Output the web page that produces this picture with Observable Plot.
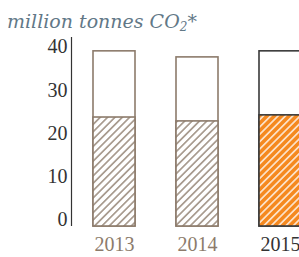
<!DOCTYPE html>
<html>
<head>
<meta charset="utf-8">
<script src="https://cdn.jsdelivr.net/npm/d3@7"></script>
<script src="https://cdn.jsdelivr.net/npm/@observablehq/plot@0.6"></script>
<style>
  html, body { margin: 0; padding: 0; background: #fff; overflow: hidden; }
  #sub { height: 30px; box-sizing: border-box; padding: 12px 0 0 7px; font-family: "DejaVu Serif", serif; font-style: italic; font-size: 19px; line-height: 18px; color: #627887; white-space: nowrap; }
  #sub sub { font-size: 12px; vertical-align: -3px; line-height: 0; }
</style>
</head>
<body>
<div id="sub">million tonnes CO<sub>2</sub>*</div>
<div id="chart"></div>
<script>
const years = ["2013", "2014", "2015"];
const totals = [40.5, 39.1, 40.5];
const hatched = [25.2, 24.3, 25.7];
const yTicks = [0, 10, 20, 30, 40];
const yTop = 43.7;
const highlight = "2015";

const rows = years.map((y, i) => ({year: y, total: totals[i], hatched: hatched[i]}));
const strokeOf = d => d.year === highlight ? "#3a3a3a" : "#8c7b6b";

const chart = Plot.plot({
  width: 299,
  height: 227,
  marginTop: 7,
  marginBottom: 31,
  marginLeft: 71,
  marginRight: 0,
  style: {fontFamily: "Liberation Serif, serif", fontSize: "20px", color: "#333", background: "white", overflow: "visible"},
  x: {domain: years, range: [71, 323], paddingInner: 0.494, paddingOuter: 0.265, axis: null},
  y: {domain: [0, yTop], axis: null},
  color: {type: "identity"},
  marks: [
    Plot.barY(rows, {x: "year", y1: 0, y2: "total", fill: "white", stroke: strokeOf, strokeWidth: 1.6, inset: 0}),
    Plot.barY(rows, {x: "year", y1: 0, y2: "hatched", fill: d => d.year === highlight ? "url(#hatch-orange)" : "url(#hatch-brown)", stroke: strokeOf, strokeWidth: 1.6, inset: 0}),
    Plot.axisY({ticks: yTicks, tickSize: 0, tickPadding: 4, dy: -6.5, fill: "#333", fontSize: 20}),
    Plot.text(years, {x: d => d, frameAnchor: "bottom", dy: 18, lineAnchor: "middle", fill: d => d === highlight ? "#333" : "#8c7b6b", fontSize: 20})
  ]
});

const svg = d3.select(chart);
const defs = svg.insert("defs", ":first-child");
function hatch(id, bg, fg) {
  const w = 5.2;
  const p = defs.append("pattern").attr("id", id).attr("patternUnits", "userSpaceOnUse")
    .attr("width", w).attr("height", w).attr("patternTransform", "rotate(45)");
  p.append("rect").attr("width", w).attr("height", w).attr("fill", bg);
  p.append("line").attr("x1", w / 2).attr("y1", 0).attr("x2", w / 2).attr("y2", w).attr("stroke", fg).attr("stroke-width", 1.3);
}
hatch("hatch-brown", "white", "#8c7b6b");
hatch("hatch-orange", "#f5891f", "white");

// y axis line, placed with the plot's own y scale
const yScale = chart.scale("y");
svg.append("line")
  .attr("x1", 71.5).attr("x2", 71.5)
  .attr("y1", yScale.apply(yTop)).attr("y2", yScale.apply(0))
  .attr("stroke", "#333").attr("stroke-width", 1.2);

document.getElementById("chart").appendChild(chart);
</script>
</body>
</html>
